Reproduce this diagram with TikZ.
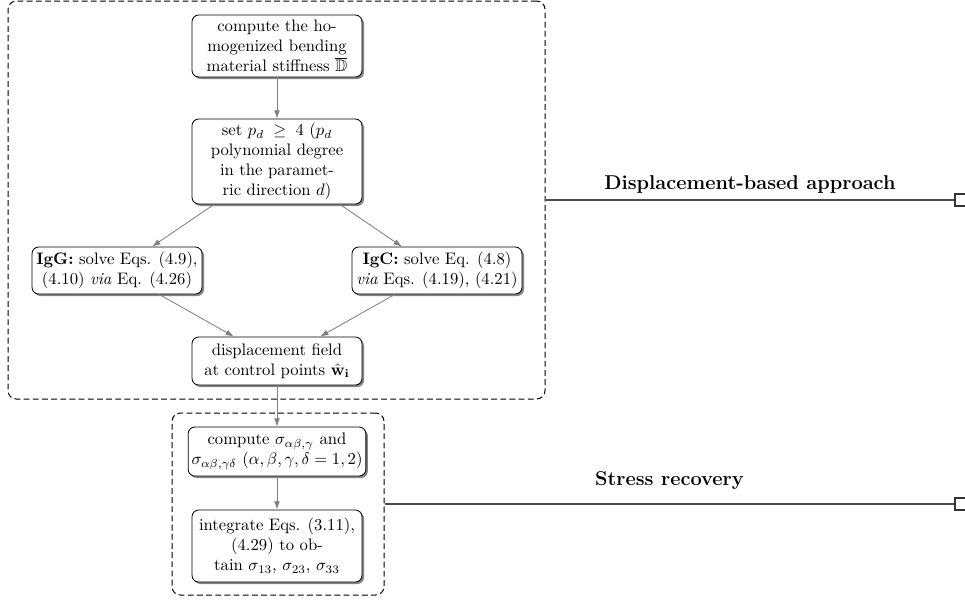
\documentclass[tikz,border=0pt]{standalone}
\usepackage{amsmath,amssymb}
\usetikzlibrary{arrows.meta,shadows}
\begin{document}
\begin{tikzpicture}[x=0.6pt,y=-0.6pt,
 stepbox/.style={draw=black, fill=white, rounded corners=4pt, align=center, minimum width=102pt, inner sep=2pt,
   font=\fontsize{10}{12}\selectfont, line width=0.5pt,
   drop shadow={shadow xshift=1.2pt, shadow yshift=-1.2pt, fill=black!60, opacity=0.8}},
 flow/.style={draw=gray, line width=0.5pt, -{Latex[length=5pt,width=3.5pt]}},
 groupbox/.style={draw=black, dash pattern=on 3.5pt off 2pt, rounded corners=5pt, line width=0.6pt, inner sep=0pt},
 link/.style={draw=black!70, line width=0.7pt},
 endsq/.style={draw=black!80, fill=white, minimum size=7.2pt, inner sep=0pt, line width=0.7pt},
 grouplabel/.style={font=\large\bfseries, anchor=base, inner sep=0pt, text=black}]
\useasboundingbox (0,0) rectangle (965,601);
\clip (0,0) rectangle (965,601);

% group boxes
\node[groupbox, minimum width=322.2pt, minimum height=238.8pt] (g1) at (276.5,200) {};
\node[groupbox, minimum width=127.2pt, minimum height=109.2pt] (g2) at (278,504) {};

% steps
\node[stepbox, minimum height=37.2pt] (A) at (277,46)
  {compute the ho-\\mogenized bending\\material stiffness $\overline{\mathbb{D}}$};
\node[stepbox, minimum height=51pt] (B) at (277,161.5)
  {set $p_d\;\geq\;4$ ($p_d$\\polynomial degree\\in the paramet-\\ric direction $d$)};
\node[stepbox, minimum height=28.2pt] (IgG) at (117,270.5)
  {\textbf{IgG:} solve Eqs. (4.9),\\(4.10) \emph{via} Eq. (4.26)};
\node[stepbox, minimum height=28.2pt] (IgC) at (437,270.5)
  {\textbf{IgC:} solve Eq. (4.8)\\\emph{via} Eqs. (4.19), (4.21)};
\node[stepbox, minimum height=28.8pt] (Disp) at (277,361)
  {displacement field\\at control points $\hat{\mathbf{w}}_{\mathbf{i}}$};
\node[stepbox, minimum height=29.4pt] (Sig) at (277,451.5)
  {compute $\sigma_{\alpha\beta,\gamma}$ and\\$\sigma_{\alpha\beta,\gamma\delta}$ $(\alpha,\beta,\gamma,\delta=1,2)$};
\node[stepbox, minimum height=43.2pt] (Int) at (277,546)
  {integrate Eqs. (3.11),\\(4.29) to ob-\\tain $\sigma_{13}$, $\sigma_{23}$, $\sigma_{33}$};

% flow
\draw[flow] (A) -- (B);
\draw[flow] (B) -- (IgG);
\draw[flow] (B) -- (IgC);
\draw[flow] (IgG) -- (Disp);
\draw[flow] (IgC) -- (Disp);
\draw[flow] (Disp) -- (Sig);
\draw[flow] (Sig) -- (Int);

% group labels
\node[endsq] (e1) at (961,200) {};
\draw[link] (g1.east) -- node[grouplabel, yshift=6.6pt] {Displacement-based approach} (e1.west);
\node[endsq] (e2) at (961,504) {};
\draw[link] (g2.east) -- node[grouplabel, yshift=11.4pt] {Stress recovery} (e2.west);
\end{tikzpicture}
\end{document}
